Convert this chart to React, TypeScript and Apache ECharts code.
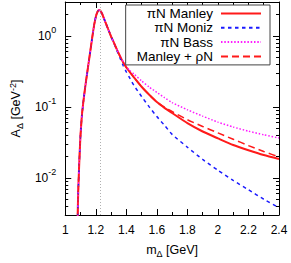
import { useEffect, useRef } from 'react';
import * as echarts from 'echarts';

// m_Delta [GeV]
const mass = [
  1.079, 1.082, 1.086, 1.09, 1.095, 1.1, 1.105, 1.11, 1.12, 1.13, 1.14, 1.15, 1.16, 1.17, 1.18,
  1.19, 1.2, 1.21, 1.22, 1.23, 1.24, 1.25, 1.26, 1.28, 1.3, 1.32, 1.34, 1.36, 1.38, 1.4, 1.42,
  1.45, 1.5, 1.55, 1.6, 1.65, 1.7, 1.8, 1.9, 2.0, 2.1, 2.2, 2.3, 2.4,
];

// A_Delta [GeV^-2]
const piNManley = [
  0.0015, 0.0035, 0.0075, 0.013, 0.024, 0.04, 0.058, 0.08, 0.125, 0.185, 0.265, 0.375, 0.53, 0.75, 1.06,
  1.45, 1.85, 2.15, 2.31, 2.27, 2.08, 1.84, 1.62, 1.26, 0.98, 0.79, 0.63, 0.51, 0.42, 0.36, 0.315,
  0.26, 0.192, 0.148, 0.117, 0.097, 0.082, 0.059, 0.045, 0.036, 0.029, 0.0245, 0.021, 0.0185,
];
const piNMoniz = [
  0.0015, 0.0035, 0.0075, 0.013, 0.024, 0.04, 0.058, 0.08, 0.125, 0.185, 0.265, 0.375, 0.53, 0.75, 1.06,
  1.45, 1.85, 2.15, 2.31, 2.27, 2.08, 1.84, 1.62, 1.26, 0.98, 0.78, 0.61, 0.48, 0.38, 0.31, 0.26,
  0.2, 0.14, 0.1, 0.073, 0.055, 0.041, 0.027, 0.0182, 0.0128, 0.0092, 0.0068, 0.005, 0.0038,
];
const piNBass = [
  0.0015, 0.0035, 0.0075, 0.013, 0.024, 0.04, 0.058, 0.08, 0.125, 0.185, 0.265, 0.375, 0.53, 0.75, 1.06,
  1.45, 1.85, 2.15, 2.31, 2.27, 2.08, 1.84, 1.62, 1.26, 0.98, 0.79, 0.63, 0.515, 0.43, 0.37, 0.33,
  0.29, 0.232, 0.19, 0.16, 0.135, 0.115, 0.091, 0.074, 0.061, 0.052, 0.0455, 0.0405, 0.0365,
];
const manleyRhoN = [
  0.0015, 0.0035, 0.0075, 0.013, 0.024, 0.04, 0.058, 0.08, 0.125, 0.185, 0.265, 0.375, 0.53, 0.75, 1.06,
  1.45, 1.85, 2.15, 2.31, 2.27, 2.08, 1.84, 1.62, 1.26, 0.98, 0.79, 0.63, 0.51, 0.42, 0.36, 0.315,
  0.26, 0.192, 0.148, 0.117, 0.099, 0.086, 0.066, 0.053, 0.043, 0.035, 0.0285, 0.0235, 0.0197,
];

const seriesNames = ['πN Manley', 'πN Moniz', 'πN Bass', 'Manley + ρN'];
const deltaMass = 1.232;

const yMajorTicks = [0.01, 0.1, 1];
const yMinorTicks = [
  0.003, 0.004, 0.005, 0.006, 0.007, 0.008, 0.009,
  0.02, 0.03, 0.04, 0.05, 0.06, 0.07, 0.08, 0.09,
  0.2, 0.3, 0.4, 0.5, 0.6, 0.7, 0.8, 0.9,
  2, 3,
];

const FONT = 'Liberation Sans, Arial, Helvetica, sans-serif';

export default function App() {
  const ref = useRef<HTMLDivElement>(null);

  useEffect(() => {
    if (!ref.current) return;
    const chart = echarts.init(ref.current, undefined, { renderer: 'svg' });

    const pairs = (vals: number[]) => mass.map((m, i) => [m, vals[i]]);

    const xBase = {
      type: 'value' as const,
      min: 1,
      max: 2.4,
      interval: 0.2,
      splitLine: { show: false },
      minorSplitLine: { show: false },
      axisLine: { show: true, onZero: false, lineStyle: { color: '#000', width: 1 } },
      axisTick: { show: true, inside: true, length: 6, lineStyle: { color: '#000', width: 1 } },
      minorTick: { show: true, splitNumber: 2, length: 3, lineStyle: { color: '#000', width: 1 } },
    };

    const yBase = {
      type: 'log' as const,
      logBase: 10,
      min: 0.003,
      max: 3,
      splitLine: { show: false },
      minorTick: { show: false },
      minorSplitLine: { show: false },
    };

    const lineAx = { show: true, onZero: false, lineStyle: { color: '#000', width: 1 } };

    chart.setOption({
      animation: false,
      backgroundColor: '#fff',
      grid: { left: 59, right: 12, top: 2, bottom: 43 },
      legend: {
        orient: 'vertical',
        right: 21,
        top: 5,
        align: 'right',
        itemWidth: 40,
        itemHeight: 13,
        itemGap: 0.3,
        padding: [1.5, 8, 1.5, 11],
        borderColor: '#444',
        borderWidth: 1,
        borderRadius: 0,
        backgroundColor: '#fff',
        itemStyle: { opacity: 0, borderWidth: 0 },
        textStyle: { fontSize: 13.5, color: '#000', fontFamily: FONT, lineHeight: 13, padding: [0, 3, 0, 0] },
        data: seriesNames,
      },
      xAxis: [
        {
          ...xBase,
          position: 'bottom',
          axisLabel: { fontSize: 12, color: '#000', fontFamily: FONT, margin: 9 },
          name: 'm{sub|Δ} [GeV]',
          nameLocation: 'middle',
          nameGap: 27,
          nameTextStyle: {
            fontSize: 12.5,
            color: '#000',
            fontFamily: FONT,
            lineHeight: 16,
            rich: { sub: { fontSize: 9, lineHeight: 8, verticalAlign: 'bottom', fontFamily: FONT, color: '#000' } },
          },
        },
        { ...xBase, position: 'top', axisLabel: { show: false } },
      ],
      yAxis: [
        {
          ...yBase,
          position: 'left',
          axisLine: lineAx,
          axisTick: { show: true, inside: true, length: 6, customValues: yMajorTicks, lineStyle: { color: '#000' } },
          axisLabel: {
            customValues: yMajorTicks,
            margin: 9,
            color: '#000',
            fontFamily: FONT,
            formatter: (v: number) => `{b|10}{sup|${Math.round(Math.log10(v))}}`,
            rich: {
              b: { fontSize: 12, lineHeight: 20, fontFamily: FONT, color: '#000' },
              sup: { fontSize: 9, lineHeight: 8, verticalAlign: 'top', fontFamily: FONT, color: '#000' },
            },
          },
          name: 'A{sub|Δ} [GeV{sup|-2}]',
          nameLocation: 'middle',
          nameRotate: 90,
          nameGap: 38,
          nameTextStyle: {
            fontSize: 12.5,
            color: '#000',
            fontFamily: FONT,
            lineHeight: 16,
            rich: {
              sub: { fontSize: 9, lineHeight: 8, verticalAlign: 'bottom', fontFamily: FONT, color: '#000' },
              sup: { fontSize: 9, lineHeight: 8, verticalAlign: 'top', fontFamily: FONT, color: '#000' },
            },
          },
        },
        {
          ...yBase,
          position: 'left',
          axisLine: { show: false },
          axisTick: { show: true, inside: true, length: 3, customValues: yMinorTicks, lineStyle: { color: '#000' } },
          axisLabel: { show: false, customValues: yMinorTicks },
        },
        {
          ...yBase,
          position: 'right',
          axisLine: lineAx,
          axisTick: { show: true, inside: true, length: 6, customValues: yMajorTicks, lineStyle: { color: '#000' } },
          axisLabel: { show: false, customValues: yMajorTicks },
        },
        {
          ...yBase,
          position: 'right',
          axisLine: { show: false },
          axisTick: { show: true, inside: true, length: 3, customValues: yMinorTicks, lineStyle: { color: '#000' } },
          axisLabel: { show: false, customValues: yMinorTicks },
        },
      ],
      series: [
        {
          name: seriesNames[0],
          type: 'line',
          xAxisIndex: 0,
          yAxisIndex: 0,
          symbol: 'none',
          smooth: 0.2,
          data: pairs(piNManley),
          lineStyle: { color: '#ff1a1a', width: 2, type: 'solid' },
          itemStyle: { color: '#ff1a1a' },
          markLine: {
            silent: true,
            symbol: 'none',
            label: { show: false },
            lineStyle: { color: '#b0b0b0', width: 1, type: [1, 2] },
            data: [{ xAxis: deltaMass }],
          },
        },
        {
          name: seriesNames[1],
          type: 'line',
          symbol: 'none',
          smooth: 0.2,
          data: pairs(piNMoniz),
          lineStyle: { color: '#1a1aff', width: 1.5, type: [3.5, 3.5] },
          itemStyle: { color: '#1a1aff' },
        },
        {
          name: seriesNames[2],
          type: 'line',
          symbol: 'none',
          smooth: 0.2,
          data: pairs(piNBass),
          lineStyle: { color: '#ff1aff', width: 1.5, type: [1.5, 1.8] },
          itemStyle: { color: '#ff1aff' },
        },
        {
          name: seriesNames[3],
          type: 'line',
          symbol: 'none',
          smooth: 0.2,
          data: pairs(manleyRhoN),
          lineStyle: { color: '#ff1a1a', width: 1.5, type: [7, 4] },
          itemStyle: { color: '#ff1a1a' },
        },
      ],
    });

    return () => chart.dispose();
  }, []);

  return (
    <div
      ref={ref}
      style={{ position: 'absolute', left: 0, top: 0, width: 291, height: 263 }}
    />
  );
}
